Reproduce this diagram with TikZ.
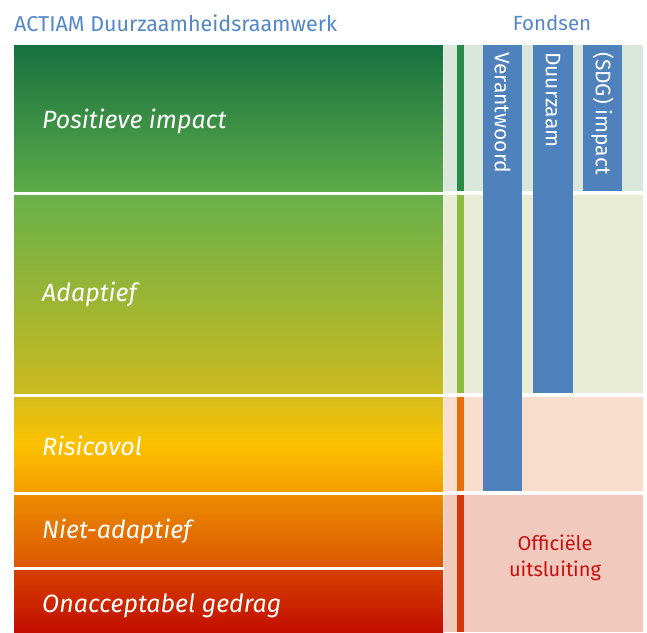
\documentclass[tikz,border=0pt]{standalone}
\usepackage{fontspec}
\setmainfont{Fira Sans}
\usepackage{xcolor}
\usepackage{tikz}
\usetikzlibrary{positioning}

\definecolor{headblue}{RGB}{84,135,200}
\definecolor{fundblue}{RGB}{79,129,189}
\definecolor{exclred}{RGB}{200,16,16}

\begin{document}
\begin{tikzpicture}[
    x=1pt, y=-1pt,
    font=\fontsize{21.5}{24}\selectfont,
    band/.style={rectangle, inner sep=0pt, outer sep=0pt, anchor=north west, minimum width=429pt},
    pale/.style={rectangle, inner sep=0pt, outer sep=0pt, anchor=north west, minimum width=199pt},
    stripe/.style={rectangle, inner sep=0pt, outer sep=0pt, anchor=north west, minimum width=7pt},
    fund/.style={rectangle, inner sep=0pt, outer sep=0pt, anchor=north west, fill=fundblue},
    lbl/.style={text=white, font=\fontsize{25}{28}\selectfont\itshape, anchor=west, inner sep=0pt},
    fundtext/.style={text=white, font=\fontsize{21}{24}\selectfont, rotate=-90, anchor=west, inner sep=0pt}
]
    \useasboundingbox (0,0) rectangle (647,632);

    % --- Headers ---
    \node[text=headblue, anchor=west, inner sep=0pt] (title) at (14,23) {ACTIAM Duurzaamheidsraamwerk};
    \node[text=headblue, inner sep=0pt, font=\fontsize{20.5}{24}\selectfont] (funds) at (552,23) {Fondsen};

    % --- Left: framework rows ---
    \node[band, minimum height=146pt, top color={rgb,255:red,23;green,113;blue,64}, bottom color={rgb,255:red,92;green,170;blue,72}] (pos) at (14,45) {};
    \node[band, minimum height=198pt, top color={rgb,255:red,104;green,176;blue,74}, bottom color={rgb,255:red,202;green,186;blue,32}] (adap) at (14,195) {};
    \node[band, minimum height=94pt, top color={rgb,255:red,214;green,188;blue,26}, bottom color={rgb,255:red,244;green,158;blue,0}, middle color={rgb,255:red,252;green,194;blue,0}] (risk) at (14,397) {};
    \node[band, minimum height=71pt, top color={rgb,255:red,236;green,140;blue,0}, bottom color={rgb,255:red,220;green,88;blue,0}] (nadap) at (14,495) {};
    \node[band, minimum height=62pt, top color={rgb,255:red,214;green,64;blue,0}, bottom color={rgb,255:red,194;green,14;blue,0}] (unacc) at (14,570) {};

    \node[lbl, right=28pt of pos.west, yshift=-3pt] (lpos) {Positieve impact};
    \node[lbl, right=28pt of adap.west] (ladap) {Adaptief};
    \node[lbl, right=28pt of risk.west, yshift=-2pt] (lrisk) {Risicovol};
    \node[lbl, right=28pt of nadap.west, yshift=-1pt] (lnadap) {Niet-adaptief};
    \node[lbl, right=28pt of unacc.west, yshift=-5pt] (lunacc) {Onacceptabel gedrag};

    % --- Right: pale bands and stripes ---
    \node[pale, minimum height=146pt, fill={rgb,255:red,217;green,232;blue,218}] (ppos) at (444,45) {};
    \node[pale, minimum height=198pt, fill={rgb,255:red,233;green,237;blue,214}] (padap) at (444,195) {};
    \node[pale, minimum height=94pt, fill={rgb,255:red,249;green,222;blue,206}] (prisk) at (444,397) {};
    \node[pale, minimum height=137pt, fill={rgb,255:red,242;green,201;blue,189}] (pexcl) at (444,495) {};

    \node[stripe, minimum height=146pt, fill={rgb,255:red,40;green,140;blue,70}] (spos) at (457,45) {};
    \node[stripe, minimum height=198pt, fill={rgb,255:red,140;green,186;blue,64}] (sadap) at (457,195) {};
    \node[stripe, minimum height=94pt, fill={rgb,255:red,232;green,110;blue,10}] (srisk) at (457,397) {};
    \node[stripe, minimum height=137pt, fill={rgb,255:red,212;green,55;blue,10}] (sexcl) at (457,495) {};

    % Fund bars
    \node[fund, minimum width=39pt, minimum height=446pt] (vbar) at (483,45) {};
    \node[fund, minimum width=40pt, minimum height=348pt] (dbar) at (533,45) {};
    \node[fund, minimum width=39pt, minimum height=146pt] (sbar) at (583,45) {};

    \node[fundtext] (vtext) at ([yshift=-7pt]vbar.north) {Verantwoord};
    \node[fundtext] (dtext) at ([yshift=-7pt]dbar.north) {Duurzaam};
    \node[fundtext] (stext) at ([yshift=-7pt]sbar.north) {(SDG) impact};

    \node[text=exclred, align=center, font=\fontsize{20}{26}\selectfont] (excl) at (555,558) {Officiële\\uitsluiting};

\end{tikzpicture}
\end{document}
